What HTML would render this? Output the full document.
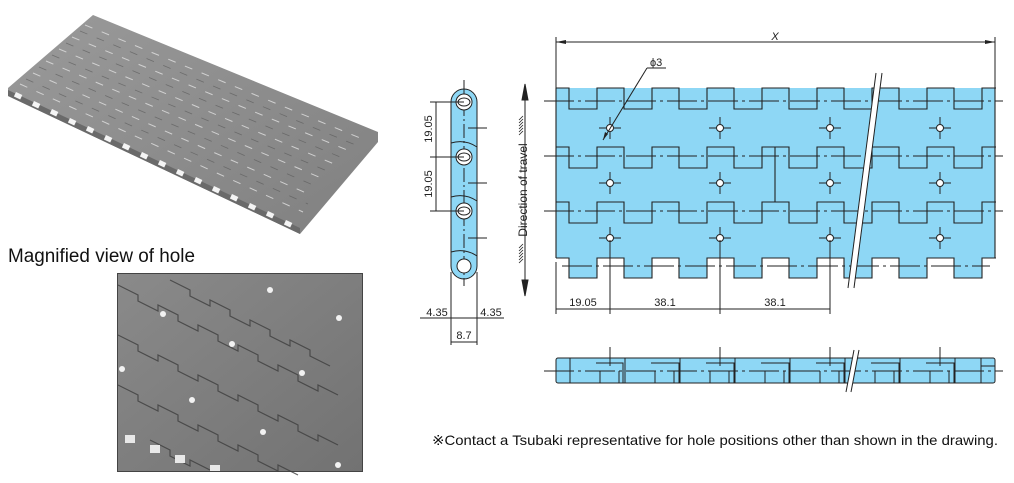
<!DOCTYPE html>
<html><head><meta charset="utf-8"><style>
html,body{margin:0;padding:0;background:#fff;}
svg{display:block;font-family:"Liberation Sans",sans-serif;}
</style></head><body>
<svg width="1014" height="483" viewBox="0 0 1014 483" xmlns="http://www.w3.org/2000/svg">
<defs>
<linearGradient id="g1" x1="0" y1="0" x2="1" y2="1"><stop offset="0" stop-color="#9a9a9a"/><stop offset="1" stop-color="#808080"/></linearGradient>
<linearGradient id="g2" x1="0" y1="0" x2="1" y2="1"><stop offset="0" stop-color="#8a8a8a"/><stop offset="1" stop-color="#727272"/></linearGradient>
</defs>
<!-- Photo 1 -->
<polygon points="93,15 378,132 378,142 300,234 8,96 8,88" fill="url(#g1)"/>
<polygon points="8,90 300,228 300,234 8,96" fill="#6a6a6a"/>
<g fill="#f4f4f4">
<rect x="16" y="92" width="7" height="5" transform="rotate(25 16 92)"/><rect x="34" y="101" width="7" height="5" transform="rotate(25 34 101)"/><rect x="52" y="109" width="7" height="5" transform="rotate(25 52 109)"/><rect x="70" y="118" width="7" height="5" transform="rotate(25 70 118)"/><rect x="88" y="126" width="7" height="5" transform="rotate(25 88 126)"/><rect x="106" y="135" width="7" height="5" transform="rotate(25 106 135)"/><rect x="124" y="143" width="7" height="5" transform="rotate(25 124 143)"/><rect x="142" y="152" width="7" height="5" transform="rotate(25 142 152)"/><rect x="160" y="160" width="7" height="5" transform="rotate(25 160 160)"/><rect x="178" y="169" width="7" height="5" transform="rotate(25 178 169)"/><rect x="196" y="177" width="7" height="5" transform="rotate(25 196 177)"/><rect x="214" y="186" width="7" height="5" transform="rotate(25 214 186)"/><rect x="232" y="194" width="7" height="5" transform="rotate(25 232 194)"/><rect x="250" y="203" width="7" height="5" transform="rotate(25 250 203)"/><rect x="268" y="211" width="7" height="5" transform="rotate(25 268 211)"/><rect x="286" y="220" width="7" height="5" transform="rotate(25 286 220)"/>
</g>
<g stroke="#d8d8d8" stroke-width="1" stroke-dasharray="8,10" opacity="0.9">
<line x1="85" y1="25" x2="365" y2="140"/><line x1="72" y1="37" x2="352" y2="152"/><line x1="59" y1="49" x2="339" y2="166"/>
<line x1="46" y1="61" x2="326" y2="180"/><line x1="33" y1="73" x2="313" y2="196"/><line x1="20" y1="84" x2="303" y2="212"/>
</g>
<g stroke="#555" stroke-width="0.8" stroke-dasharray="8,10" opacity="0.6">
<line x1="80" y1="31" x2="358" y2="146"/><line x1="66" y1="43" x2="345" y2="159"/><line x1="52" y1="55" x2="332" y2="173"/>
<line x1="39" y1="67" x2="320" y2="188"/><line x1="26" y1="79" x2="308" y2="204"/>
</g>
<text x="8" y="262" font-size="19" fill="#111" textLength="187" lengthAdjust="spacingAndGlyphs">Magnified view of hole</text>
<!-- Photo 2 -->
<rect x="117.5" y="273.5" width="245" height="198" fill="url(#g2)" stroke="#444"/>
<g stroke="#3e3e3e" stroke-width="1.2" fill="none" opacity="0.8">
<path d="M118,285 l20,10 v6 l20,10 v-6 l20,10 v6 l20,10 v-6 l20,10 v6 l20,10 v-6 l20,10 v6 l20,10 v-6 l20,10 v6 l20,10 v-6 l20,10"/>
<path d="M118,335 l20,10 v6 l20,10 v-6 l20,10 v6 l20,10 v-6 l20,10 v6 l20,10 v-6 l20,10 v6 l20,10 v-6 l20,10 v6 l20,10 v-6 l20,10"/>
<path d="M118,385 l20,10 v6 l20,10 v-6 l20,10 v6 l20,10 v-6 l20,10 v6 l20,10 v-6 l20,10 v6 l20,10 v-6 l20,10"/>
<path d="M170,280 l20,10 v6 l20,10 v-6 l20,10 v6 l20,10 v-6 l20,10 v6 l20,10 v-6 l20,10 v6 l20,10"/>
<path d="M150,440 l20,10 v6 l20,10 v-6 l20,10"/>
</g>
<g fill="#f2f2f2"><circle cx="270" cy="290" r="3"/><circle cx="163" cy="314" r="3"/><circle cx="339" cy="318" r="3"/><circle cx="232" cy="344" r="3"/><circle cx="122" cy="369" r="3"/><circle cx="302" cy="373" r="3"/><circle cx="192" cy="400" r="3"/><circle cx="263" cy="432" r="3"/><circle cx="338" cy="465" r="3"/></g>
<g fill="#e8e8e8"><rect x="125" y="435" width="10" height="8"/><rect x="150" y="445" width="10" height="8"/><rect x="175" y="455" width="10" height="8"/><rect x="210" y="465" width="10" height="6"/></g>

<!-- Side view -->
<g stroke="#222" stroke-width="1" fill="none">
<rect x="451" y="89" width="26" height="190" rx="13" fill="#8ed7f5"/>
<line x1="464" y1="80" x2="464" y2="286" stroke-dasharray="14,3,2,3"/>
<circle cx="464" cy="102" r="8" fill="#fff"/><circle cx="464" cy="157" r="8" fill="#fff"/><circle cx="464" cy="211" r="8" fill="#fff"/><circle cx="464" cy="266" r="7" fill="#fff"/>
<ellipse cx="464" cy="102" rx="6" ry="4"/><ellipse cx="464" cy="157" rx="6" ry="4"/><ellipse cx="464" cy="211" rx="6" ry="4"/>
<path d="M451,143 q14,-4 26,4"/><path d="M451,197 q14,-4 26,4"/><path d="M451,252 q14,-4 26,4"/>
<line x1="468" y1="128" x2="487" y2="128"/><line x1="468" y1="183" x2="487" y2="183"/><line x1="468" y1="238" x2="487" y2="238"/>
<line x1="430" y1="102" x2="464" y2="102"/><line x1="430" y1="157" x2="464" y2="157"/><line x1="430" y1="211" x2="464" y2="211"/>
<line x1="436" y1="102" x2="436" y2="211"/>
<line x1="451" y1="272" x2="451" y2="345"/><line x1="477" y1="272" x2="477" y2="345"/>
<line x1="420" y1="318" x2="504" y2="318"/>
<line x1="451" y1="342" x2="477" y2="342"/>
</g>
<g font-size="11" fill="#222">
<text transform="translate(432,129) rotate(-90)" text-anchor="middle">19.05</text>
<text transform="translate(432,184) rotate(-90)" text-anchor="middle">19.05</text>
<text x="437" y="316" text-anchor="middle">4.35</text>
<text x="491" y="316" text-anchor="middle">4.35</text>
<text x="464" y="339" text-anchor="middle">8.7</text>
</g>
<!-- Direction of travel -->
<g stroke="#222" fill="#222">
<line x1="525" y1="90" x2="525" y2="290"/>
<polygon points="525,84 522,100 528,100"/><polygon points="525,296 522,280 528,280"/>
</g>
<text transform="translate(527,190) rotate(-90)" text-anchor="middle" font-size="12" fill="#222">Direction of travel</text>
<g stroke="#222" stroke-width="0.8"><path d="M519,120 l4,-4 M519,123 l4,-4 M519,126 l4,-4 M519,129 l4,-4 M519,132 l4,-4 M519,135 l4,-4"/>
<path d="M519,248 l4,-4 M519,251 l4,-4 M519,254 l4,-4 M519,257 l4,-4 M519,260 l4,-4 M519,263 l4,-4"/></g>

<!-- Top view -->
<g fill="#8ed7f5">
<rect x="556" y="88" width="439" height="170"/>
<rect x="569" y="250" width="28" height="28"/><rect x="624" y="250" width="28" height="28"/><rect x="679" y="250" width="28" height="28"/><rect x="734" y="250" width="28" height="28"/><rect x="789" y="250" width="28" height="28"/><rect x="844" y="250" width="28" height="28"/><rect x="899" y="250" width="28" height="28"/><rect x="954" y="250" width="28" height="28"/>
</g>
<g stroke="#222" stroke-width="1.1" fill="none">
<path d="M556,88 h13 v21 h28 v-21 h27 v21 h28 v-21 h27 v21 h28 v-21 h27 v21 h28 v-21 h27 v21 h28 v-21 h27 v21 h28 v-21 h27 v21 h28 v-21 h27 v21 h28 v-21 h14"/>
<path d="M556,147 h13 v21 h28 v-21 h27 v21 h28 v-21 h27 v21 h28 v-21 h27 v21 h28 v-21 h27 v21 h28 v-21 h27 v21 h28 v-21 h27 v21 h28 v-21 h27 v21 h28 v-21 h14"/>
<path d="M556,202 h13 v21 h28 v-21 h27 v21 h28 v-21 h27 v21 h28 v-21 h27 v21 h28 v-21 h27 v21 h28 v-21 h27 v21 h28 v-21 h27 v21 h28 v-21 h27 v21 h28 v-21 h14"/>
<path d="M556,258 h13 v20 h28 v-20 h27 v20 h28 v-20 h27 v20 h28 v-20 h27 v20 h28 v-20 h27 v20 h28 v-20 h27 v20 h28 v-20 h27 v20 h28 v-20 h27 v20 h28 v-20 h14"/>
<line x1="556" y1="88" x2="556" y2="258"/><line x1="995" y1="88" x2="995" y2="258"/>
<line x1="775" y1="147" x2="775" y2="202"/>
</g>
<g stroke="#222" stroke-width="0.9" stroke-dasharray="30,4,3,4">
<line x1="544" y1="101" x2="1003" y2="101"/><line x1="544" y1="156" x2="1003" y2="156"/><line x1="544" y1="211" x2="1003" y2="211"/><line x1="562" y1="266" x2="990" y2="266"/>
</g>
<g stroke="#222" stroke-width="1" fill="#fff">
<g id="h"><circle cx="610" cy="128" r="3.5"/><path d="M599,128 h7 M614,128 h7 M610,117 v7 M610,132 v7" fill="none"/></g>
<use href="#h" x="110"/><use href="#h" x="220"/><use href="#h" x="330"/>
<use href="#h" y="55"/><use href="#h" x="110" y="55"/><use href="#h" x="220" y="55"/><use href="#h" x="330" y="55"/>
<use href="#h" y="110"/><use href="#h" x="110" y="110"/><use href="#h" x="220" y="110"/><use href="#h" x="330" y="110"/>
</g>
<!-- break lines -->
<polygon points="876,73 882,73 854,288 848,288" fill="#fff"/>
<g stroke="#222" stroke-width="1"><line x1="876" y1="73" x2="848" y2="288"/><line x1="882" y1="73" x2="854" y2="288"/></g>
<!-- dims -->
<g stroke="#222" stroke-width="1" fill="none">
<line x1="556" y1="37" x2="556" y2="88"/><line x1="995" y1="37" x2="995" y2="88"/>
<line x1="556" y1="42" x2="995" y2="42"/>
<line x1="603" y1="140" x2="647" y2="68"/><line x1="647" y1="68" x2="666" y2="68"/>
<line x1="556" y1="262" x2="556" y2="314"/><line x1="610" y1="240" x2="610" y2="314"/><line x1="720" y1="240" x2="720" y2="314"/><line x1="830" y1="240" x2="830" y2="314"/>
<line x1="556" y1="309" x2="830" y2="309"/>
</g>
<g fill="#222"><polygon points="556,42 566,40 566,44"/><polygon points="995,42 985,40 985,44"/>
<polygon points="603,140 605,132 608,134"/></g>
<g font-size="11" fill="#222">
<text x="775" y="40" text-anchor="middle" font-style="italic">X</text>
<text x="650" y="66">ϕ3</text>
<text x="583" y="306" text-anchor="middle">19.05</text>
<text x="665" y="306" text-anchor="middle">38.1</text>
<text x="775" y="306" text-anchor="middle">38.1</text>
</g>

<!-- Bottom strip -->
<rect x="556" y="358" width="439" height="25" rx="2" fill="#8ed7f5" stroke="#222"/>
<g stroke="#222" stroke-width="1" fill="none">
<line x1="610" y1="347" x2="610" y2="366"/><line x1="720" y1="347" x2="720" y2="366"/><line x1="830" y1="347" x2="830" y2="366"/><line x1="940" y1="347" x2="940" y2="366"/>
<path d="M570,358 v25 M596,363 h27 v20 M600,371 v12 M619,371 v12 M625,358 v25"/>
<path d="M651,363 h28 v20 M655,371 v12 M674,371 v12 M680,358 v25"/>
<path d="M706,363 h28 v20 M710,371 v12 M729,371 v12 M735,358 v25"/>
<path d="M761,363 h28 v20 M765,371 v12 M784,371 v12 M790,358 v25"/>
<path d="M816,363 h28 v20 M820,371 v12 M839,371 v12 M845,358 v25"/>
<path d="M871,363 h28 v20 M875,371 v12 M894,371 v12 M900,358 v25"/>
<path d="M926,363 h28 v20 M930,371 v12 M949,371 v12 M955,358 v25"/>
<path d="M981,358 v25 M981,366 h14"/>
</g>
<line x1="544" y1="371" x2="1003" y2="371" stroke="#222" stroke-dasharray="30,4,3,4"/>
<polygon points="854,350 859,350 851,392 846,392" fill="#fff"/>
<g stroke="#222"><line x1="854" y1="350" x2="846" y2="392"/><line x1="859" y1="350" x2="851" y2="392"/></g>

<text x="432" y="445" font-size="14" fill="#111" textLength="566" lengthAdjust="spacingAndGlyphs">※Contact a Tsubaki representative for hole positions other than shown in the drawing.</text>
</svg>
</body></html>
